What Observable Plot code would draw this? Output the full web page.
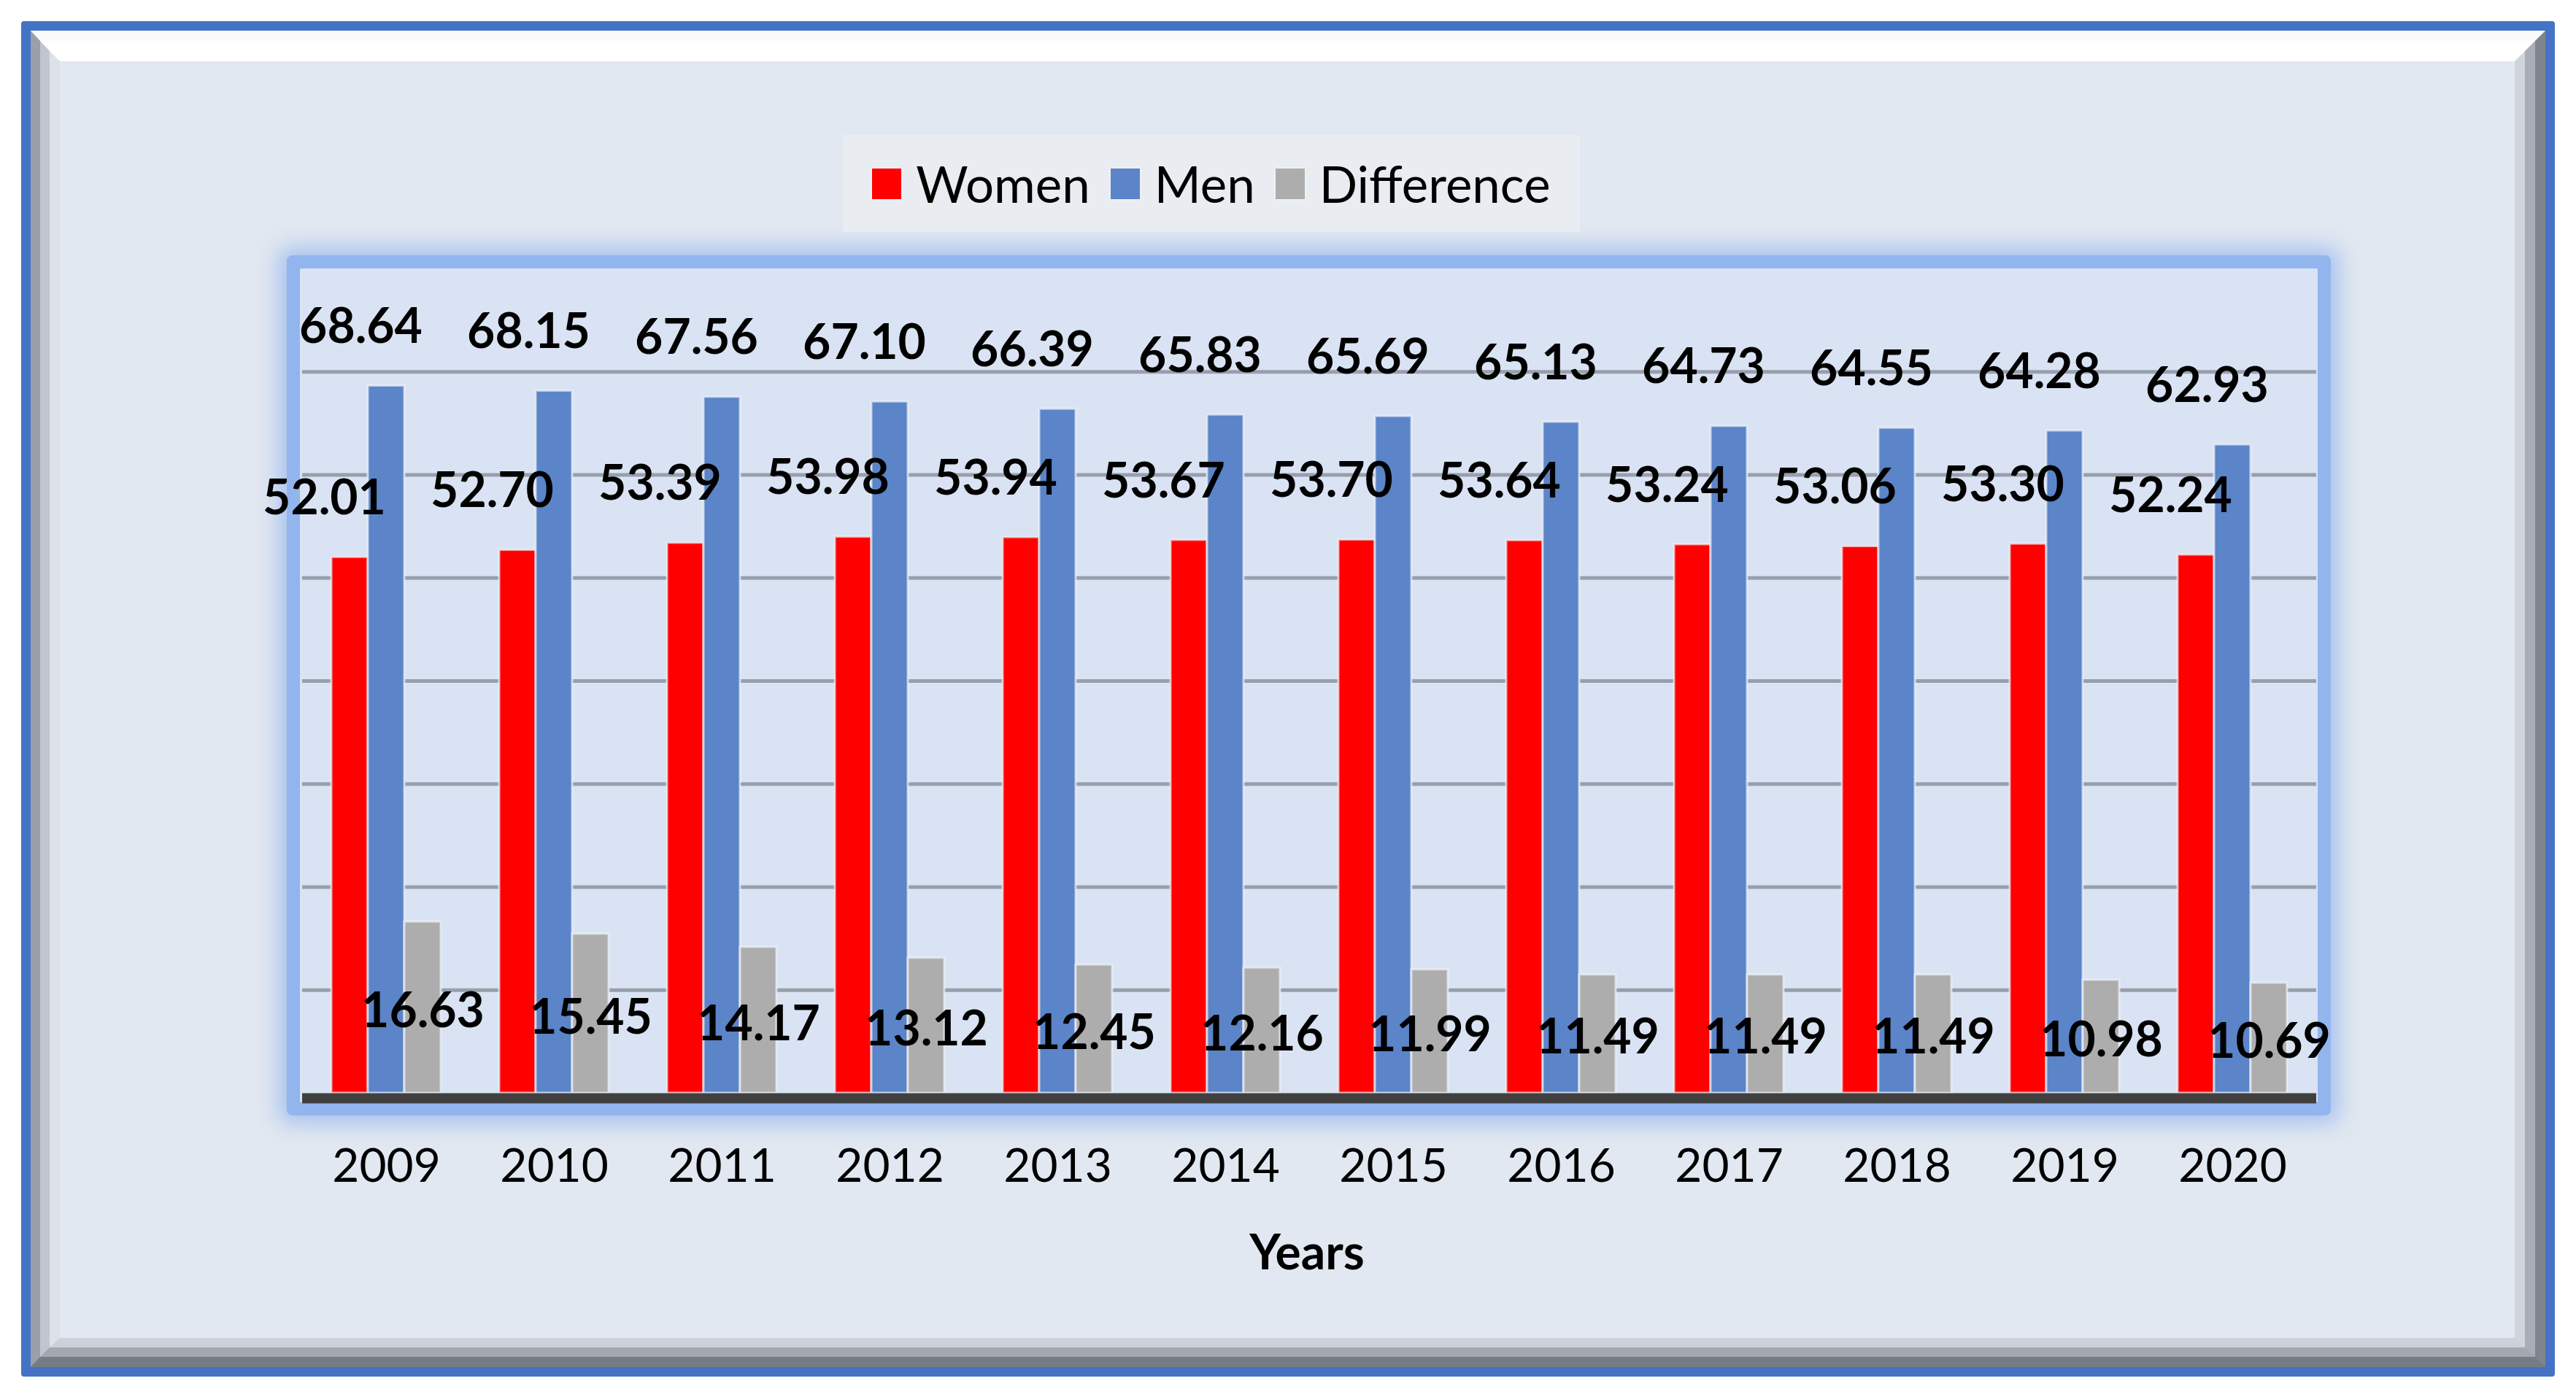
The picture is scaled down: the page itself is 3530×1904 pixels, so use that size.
<!DOCTYPE html>
<html>
<head>
<meta charset="utf-8">
<script src="https://cdn.jsdelivr.net/npm/d3@7"></script>
<script src="https://cdn.jsdelivr.net/npm/@observablehq/plot@0.6"></script>
<style>
  html, body { margin: 0; padding: 0; background: #ffffff; }
  #page { position: relative; width: 3530px; height: 1904px; overflow: hidden; font-family: Lato, "Noto Sans", sans-serif; }
  #outer { position: absolute; left: 29px; top: 29px; width: 3472px; height: 1858px; box-sizing: border-box;
           border: 13px solid #4472c4; border-radius: 4px; }
  #bevel1 { position: absolute; inset: 0; box-sizing: border-box; border-style: solid; border-width: 14px 14px 14px 13px;
            border-color: #f9fbfd #7f858e #767c85 #9aa0a9; }
  #bevel2 { position: absolute; inset: 0; box-sizing: border-box; border-style: solid; border-width: 14px 14px 13px 13px;
            border-color: #ffffff #a9aeb6 #a3a8b0 #c1c6ce; }
  #bevel3 { position: absolute; inset: 0; box-sizing: border-box; border-style: solid; border-width: 14px 14px 13px 14px;
            border-color: #ffffff #d0d5dc #cdd2da #dde2e9; background: #e2e8f1; }
  #glow { position: absolute; left: 411px; top: 368px; width: 2765px; height: 1143px; background: #dae3f3;
          box-shadow: 0 0 0 18px #93b5ee, 0 0 30px 28px rgba(147,181,238,0.8); border-radius: 2px; }
  #legend { position: absolute; left: 1155px; top: 185px; width: 1010px; height: 133px; background: #e9ecf1;
            display: flex; align-items: center; justify-content: center; font-size: 69px; color: #000; }
  .item { display: flex; align-items: center; margin: 0 14px; }
  .sw { width: 40px; height: 42px; margin-right: 20px; box-shadow: 0 0 3px rgba(255,255,255,0.9); }
  #xtitle { position: absolute; left: 1591px; width: 400px; top: 1682px; text-align: center; font-size: 66px;
            font-weight: bold; line-height: 1; color: #000; }
  #chart { position: absolute; left: 0; top: 0; }
</style>
</head>
<body>
<div id="page">
  <div id="outer"><div id="bevel1"><div id="bevel2"><div id="bevel3"></div></div></div></div>
  <div id="glow"></div>
  <div id="legend"></div>
  <div id="chart"></div>
  <div id="xtitle">Years</div>
</div>
<script>
const years = ["2009","2010","2011","2012","2013","2014","2015","2016","2017","2018","2019","2020"];
const women = [52.01, 52.70, 53.39, 53.98, 53.94, 53.67, 53.70, 53.64, 53.24, 53.06, 53.30, 52.24];
const men = [68.64, 68.15, 67.56, 67.10, 66.39, 65.83, 65.69, 65.13, 64.73, 64.55, 64.28, 62.93];
const difference = [16.63, 15.45, 14.17, 13.12, 12.45, 12.16, 11.99, 11.49, 11.49, 11.49, 10.98, 10.69];
const seriesNames = ["Women", "Men", "Difference"];
const seriesColors = ["#ff0000", "#5b84c9", "#adadad"];
const gridTicks = [10, 20, 30, 40, 50, 60, 70];
const yDomain = [0, 80];

const data = years.flatMap((year, i) => [
  {year, series: "Women", value: women[i]},
  {year, series: "Men", value: men[i]},
  {year, series: "Difference", value: difference[i]}
]);
const topData = data.filter(d => d.series !== "Difference");
const diffData = data.filter(d => d.series === "Difference");

// legend
const legend = document.getElementById("legend");
seriesNames.forEach((name, i) => {
  const item = document.createElement("div");
  item.className = "item";
  const sw = document.createElement("div");
  sw.className = "sw";
  sw.style.background = seriesColors[i];
  const label = document.createElement("span");
  label.textContent = name;
  item.appendChild(sw);
  item.appendChild(label);
  legend.appendChild(item);
});

const chart = Plot.plot({
  width: 3530,
  height: 1904,
  marginLeft: 411,
  marginRight: 354,
  marginTop: 368,
  marginBottom: 406,
  style: {background: "transparent", fontFamily: "Lato, 'Noto Sans', sans-serif", fontSize: "64px", color: "#000", overflow: "visible"},
  fx: {domain: years, padding: 0, label: null, tickSize: 0, tickPadding: 76},
  x: {domain: seriesNames, paddingInner: 0, paddingOuter: 0.77, axis: null},
  y: {domain: yDomain, axis: null},
  color: {domain: seriesNames, range: seriesColors},
  marks: [
    Plot.ruleY(gridTicks, {stroke: "#989fab", strokeWidth: 5}),
    Plot.barY(data, {fx: "year", x: "series", y: "value", fill: "series", stroke: "#eef2f8", strokeWidth: 3, strokeOpacity: 0.7}),
    Plot.ruleY([0], {stroke: "#404040", strokeWidth: 14, dy: 7}),
    Plot.text(topData, {fx: "year", x: "series", y: "value", text: d => d.value.toFixed(2),
      dy: -80, dx: -35, fontSize: 66, fontWeight: "bold", fill: "#000"}),
    Plot.text(diffData, {fx: "year", x: "series", y: d => d.value / 2, text: d => d.value.toFixed(2),
      dy: 6, fontSize: 66, fontWeight: "bold", fill: "#000"})
  ]
});
document.getElementById("chart").appendChild(chart);
</script>
</body>
</html>
